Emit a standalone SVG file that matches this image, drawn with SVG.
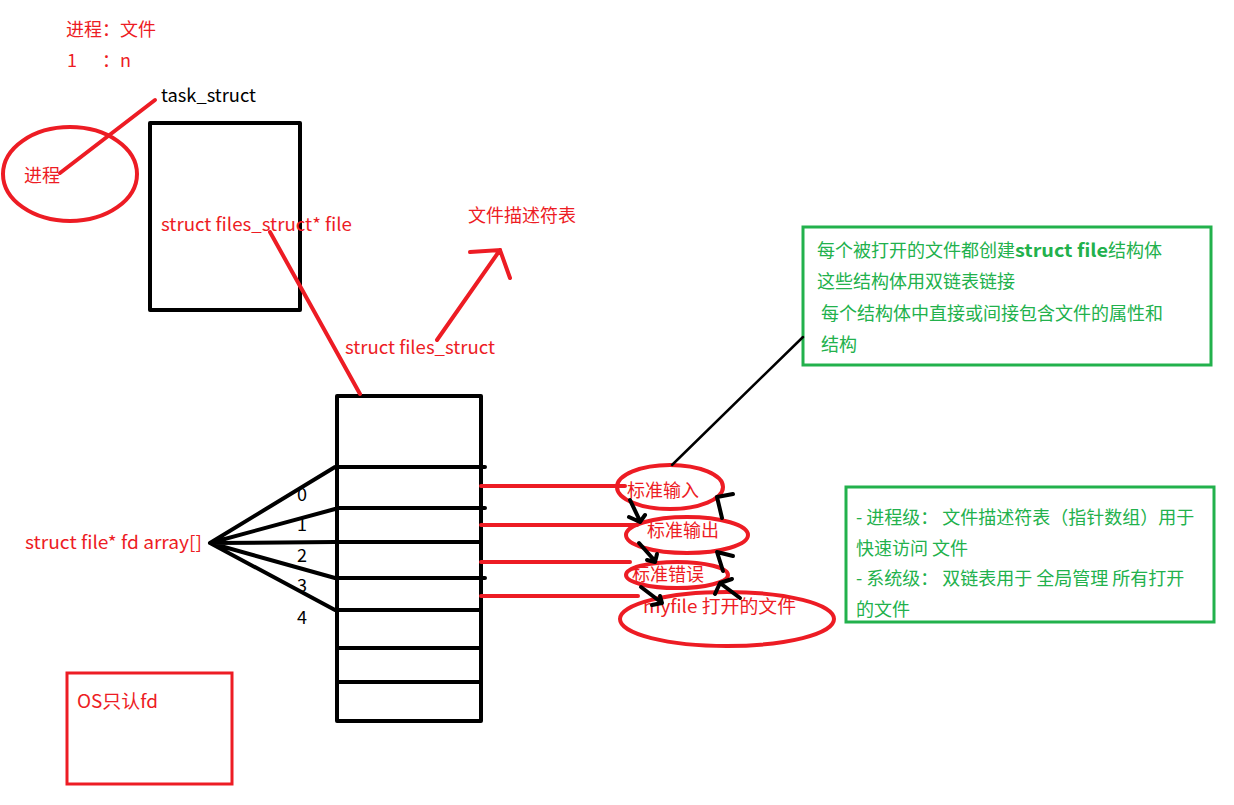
<svg xmlns="http://www.w3.org/2000/svg" width="1234" height="805" viewBox="0 0 1234 805">
<style>
text{font-family:"Microsoft YaHei","Noto Sans CJK SC",sans-serif;font-size:18px}
.r{fill:#ED1C24}.k{fill:#000}.g{fill:#22B14C}
.rs{stroke:#ED1C24;stroke-width:4;fill:none;stroke-linecap:round}
.ks{stroke:#000;stroke-width:4;fill:none;stroke-linecap:round;stroke-linejoin:round}
.kt{stroke:#000;stroke-width:2.5;fill:none;stroke-linecap:round}
.gs{stroke:#22B14C;stroke-width:3;fill:none}
</style>
<rect width="1234" height="805" fill="#fff"/>
<g id="header">
<text class="r" x="66" y="36">进程：文件</text>
<text class="r" x="67" y="67">1</text>
<text class="r" x="102" y="67">：n</text>
</g>
<g id="process">
<ellipse class="rs" cx="70" cy="174" rx="67" ry="47"/>
<text class="r" x="24" y="182">进程</text>
</g>
<g id="task_struct">
<text class="k" x="161" y="102" textLength="95" lengthAdjust="spacingAndGlyphs">task_struct</text>
<rect class="ks" x="150" y="123" width="150" height="187" stroke-linecap="square"/>
<text class="r" x="161" y="231" textLength="191" lengthAdjust="spacingAndGlyphs">struct files_struct* file</text>
</g>
<g id="fd_table_label">
<text class="r" x="468" y="222">文件描述符表</text>
<text class="r" x="345" y="354" textLength="150" lengthAdjust="spacingAndGlyphs">struct files_struct</text>
</g>
<g id="fd_table">
<rect class="ks" x="337" y="396" width="144" height="325"/>
<path class="ks" d="M337 467H485M337 508H485M337 542H481M337 578H485M337 610H481M337 648H481M337 682H481"/>
<text class="k" x="297" y="501">0</text>
<text class="k" x="297" y="531">1</text>
<text class="k" x="297" y="562">2</text>
<text class="k" x="297" y="592">3</text>
<text class="k" x="297" y="624">4</text>
</g>
<g id="fd_array">
<text class="r" x="25" y="549" textLength="177" lengthAdjust="spacingAndGlyphs">struct file* fd array[]</text>
</g>
<g id="files">
<ellipse class="rs" cx="670" cy="487" rx="53" ry="22" stroke-width="3"/>
<text class="r" x="627" y="497">标准输入</text>
<ellipse class="rs" cx="687" cy="535" rx="61" ry="18" stroke-width="3"/>
<text class="r" x="647" y="537">标准输出</text>
<ellipse class="rs" cx="677" cy="575" rx="51" ry="13" stroke-width="3"/>
<text class="r" x="632" y="581">标准错误</text>
<ellipse class="rs" cx="727" cy="619" rx="107" ry="27" stroke-width="3"/>
<text class="r" x="643" y="613" textLength="153" lengthAdjust="spacingAndGlyphs">myfile 打开的文件</text>
</g>
<g id="note1">
<rect class="gs" x="803" y="227" width="408" height="138"/>
<text class="g" x="817" y="257">每个被打开的文件都创建<tspan font-weight="bold" textLength="93" lengthAdjust="spacingAndGlyphs">struct file</tspan>结构体</text>
<text class="g" x="817" y="288">这些结构体用双链表链接</text>
<text class="g" x="821" y="320">每个结构体中直接或间接包含文件的属性和</text>
<text class="g" x="821" y="351">结构</text>
</g>
<g id="note2">
<rect class="gs" x="846" y="487" width="368" height="135"/>
<text class="g" x="856" y="524">- 进程级： 文件描述符表（指针数组）用于</text>
<text class="g" x="856" y="555">快速访问 文件</text>
<text class="g" x="856" y="585">- 系统级： 双链表用于 全局管理 所有打开</text>
<text class="g" x="856" y="616">的文件</text>
</g>
<g id="os_note">
<rect x="67" y="673" width="165" height="111" fill="none" stroke="#ED1C24" stroke-width="3"/>
<text class="r" x="77" y="708" textLength="81" lengthAdjust="spacingAndGlyphs">OS只认fd</text>
</g>
<g id="connectors">
<path class="rs" d="M155 100L60 173"/>
<path class="rs" d="M270 232L360 394"/>
<path class="rs" d="M437 340L500 250M470 252L500 250L510 278"/>
<path class="ks" d="M210 543L335 467M210 543L335 509M210 543L335 542M210 543L335 578M210 543L335 610"/>
<path class="rs" d="M481 486H625M481 525H637M481 562H630M481 596H638"/>
<path class="kt" d="M672 465L803 337"/>
<path class="ks" stroke-width="3" d="M630 500L640 521M629 517L640 522L645 515"/>
<path class="ks" stroke-width="3" d="M639 543L655 561M647 560L655 562L657 554"/>
<path class="ks" stroke-width="3" d="M641 587L662 603M652 605L662 603L660 596"/>
<path class="ks" stroke-width="3" d="M722 518L717 497L733 494"/>
<path class="ks" stroke-width="3" d="M723 571L717 552L733 556"/>
<path class="ks" stroke-width="3" d="M740 598L720 583L732 579M715 594L720 583"/>
</g>
</svg>
